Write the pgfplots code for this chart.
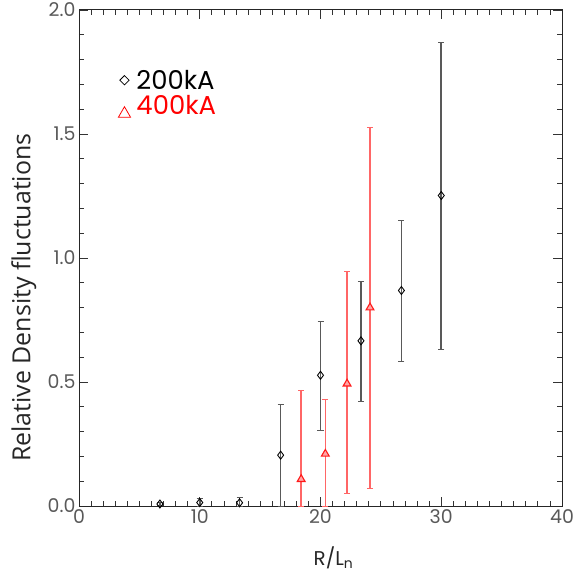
\documentclass[border=0pt]{standalone}
\usepackage{pgfplots}
\usepackage{pgfplotstable}
\pgfplotsset{compat=1.18}
\usepackage{fontspec}
\setmainfont{Poppins}
\newfontfamily\labelfont{Open Sans}
\pgfplotstableread{
x y ep em
6.7 0.008 0.006 0.006
10.0 0.014 0.018 0.014
13.3 0.013 0.022 0.013
16.7 0.205 0.205 0.205
20.0 0.527 0.220 0.220
23.35 0.666 0.242 0.242
26.7 0.869 0.285 0.284
30.0 1.252 0.620 0.620
}\blackdata
\pgfplotstableread{
x y ep em
18.4 0.108 0.360 0.108
20.4 0.210 0.221 0.210
22.2 0.493 0.452 0.443
24.1 0.800 0.728 0.727
}\reddata
\begin{document}
\begin{tikzpicture}
\useasboundingbox (-79bp,-66bp) rectangle (495bp,506bp);
\begin{axis}[
  at={(0,0)}, anchor=south west,
  scale only axis, width=483bp, height=496bp,
  xmin=0, xmax=40, ymin=0, ymax=2,
  xtick={0,10,20,30,40}, ytick={0,0.5,1,1.5,2},
  minor x tick num=9, minor y tick num=4,
  tick align=inside, major tick length=9bp, minor tick length=5bp,
  axis line style={black!85, line width=1pt},
  every tick/.style={black!80, line width=0.8pt},
  tick label style={font=\fontsize{19}{22}\selectfont, text=black!65},
  /pgf/number format/assume math mode=true,
  yticklabel style={/pgf/number format/.cd, fixed, fixed zerofill, precision=1},
  xlabel={R/L\textsubscript{n}},
  xlabel style={font=\fontsize{20}{24}\selectfont, text=black!85, at={(axis description cs:0.527,-0.075)}, anchor=north},
  ylabel={Relative Density fluctuations},
  ylabel style={font=\labelfont\fontsize{25}{29}\selectfont, text=black!85, at={(axis description cs:-0.114,0.42)}, anchor=center, rotate=0},
  clip=true,
  legend style={at={(axis description cs:0.075,0.881)}, anchor=north west, draw=none, fill=none,
    font=\fontsize{26}{30}\selectfont, row sep=7.5bp,
    nodes={inner sep=0bp, text height=18bp, text depth=0bp}},
  legend cell align=left,
]
\addplot[only marks, mark=diamond, mark size=4bp, black, line width=0.9pt,
  legend image code/.code={\path[draw=none, fill=none] (0bp,-9bp) rectangle (18bp,9bp);
    \draw[black, fill=none, line width=0.8pt, mark=square, mark options={rotate=45, fill=none}, mark size=3.3bp] plot coordinates {(6bp,0bp)};},
  error bars/.cd, y dir=both, y explicit,
  error bar style={black!65, line width=1.6pt, mark size=3bp}]
  table[x=x, y=y, y error plus=ep, y error minus=em] {\blackdata};
\addlegendentry{200kA}
\addplot[only marks, mark=triangle*, mark size=4.5bp, red!90, line width=1.1pt, fill=red!35,
  legend image code/.code={\path[draw=none, fill=none] (0bp,-9bp) rectangle (18bp,9bp);
    \draw[red, fill=none, line width=0.8pt, mark=triangle, mark options={fill=none}, mark size=7bp] plot coordinates {(6bp,-8bp)};},
  error bars/.cd, y dir=both, y explicit,
  error bar style={red!60, line width=1.6pt, mark size=3bp}]
  table[x=x, y=y, y error plus=ep, y error minus=em] {\reddata};
\addlegendentry{\textcolor{red}{400kA}}
\end{axis}
\end{tikzpicture}
\end{document}
